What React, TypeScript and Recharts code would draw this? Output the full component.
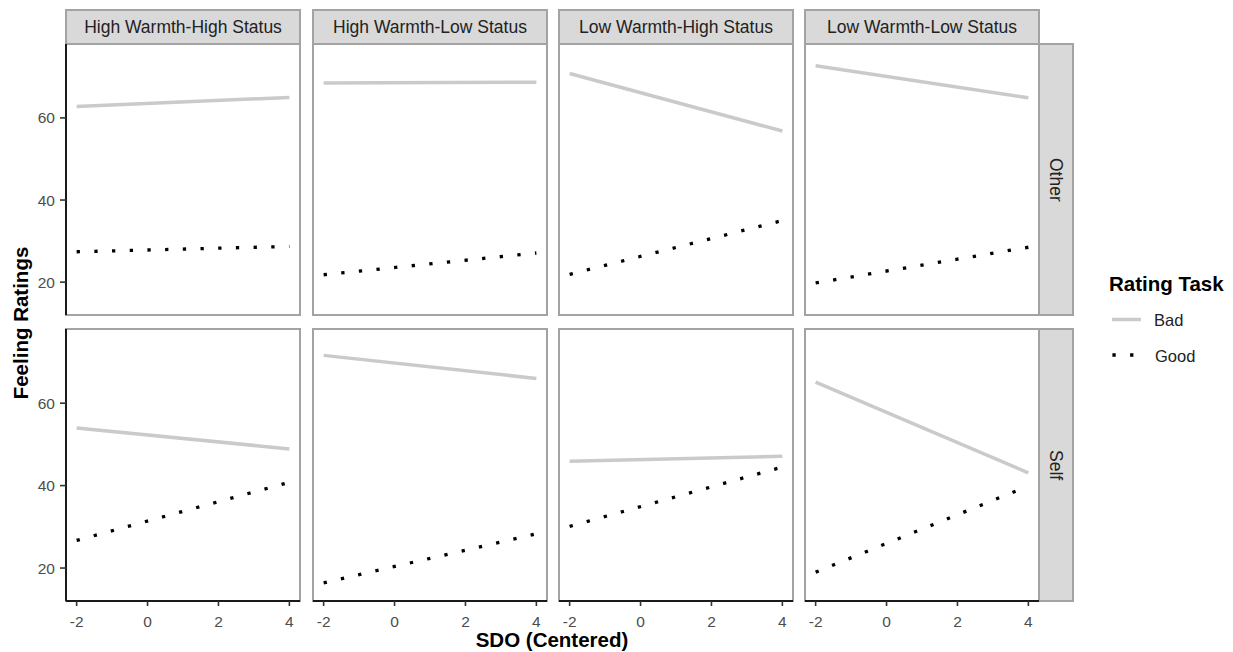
import { LineChart, Line, XAxis, YAxis } from 'recharts';

const FONT = '"Liberation Sans", Arial, Helvetica, sans-serif';

// facet labels
const columnLabels = ['High Warmth-High Status', 'High Warmth-Low Status', 'Low Warmth-High Status', 'Low Warmth-Low Status'];
const rowLabels = ['Other', 'Self'];

// x values of the fitted lines and ticks
const sdoValues = [-2, 4];
const xTicks = [-2, 0, 2, 4];
const yTicks = [20, 40, 60];

// [value at SDO=-2, value at SDO=4] per column
const badOther = [[62.8, 65.0], [68.5, 68.7], [70.8, 56.8], [72.7, 64.9]];
const goodOther = [[27.4, 28.7], [21.8, 27.1], [21.9, 35.0], [19.8, 28.5]];
const badSelf = [[54.0, 48.9], [71.6, 66.0], [45.9, 47.1], [65.1, 43.1]];
const goodSelf = [[26.7, 40.8], [16.4, 28.3], [30.1, 44.5], [19.0, 39.9]];

const seriesByRow = [
    { bad: badOther, good: goodOther },
    { bad: badSelf, good: goodSelf },
];

const colLeft = [66, 313, 559, 805];
const rowTop = [44, 329];
const rowHeight = [271, 272];
const PANEL_W = 234;
const Y_AXIS_W = 66;
const X_AXIS_H = 50;
const BORDER = '2px solid #a3a3a3';

const tickStyle = { fill: '#4d4d4d', fontSize: 15.5, fontFamily: FONT };

function Panel({ row, col }: { row: number; col: number }) {
    const bad = seriesByRow[row].bad[col];
    const good = seriesByRow[row].good[col];
    const data = sdoValues.map((x, i) => ({ sdo: x, Bad: bad[i], Good: good[i] }));
    const showY = col === 0;
    const showX = row === 1;
    const w = PANEL_W + (showY ? Y_AXIS_W : 0);
    const h = rowHeight[row] + (showX ? X_AXIS_H : 0);

    return (
        <>
            <div
                style={{
                    position: 'absolute',
                    left: colLeft[col] - 1,
                    top: rowTop[row] - 1,
                    width: PANEL_W + 2,
                    height: rowHeight[row] + 2,
                    border: BORDER,
                    boxSizing: 'border-box',
                    background: '#fff',
                }}
            />
            <div style={{ position: 'absolute', left: colLeft[col] - (showY ? Y_AXIS_W : 0), top: rowTop[row] }}>
                <LineChart width={w} height={h} data={data} margin={{ top: 0, right: 0, bottom: 0, left: 0 }}>
                    <XAxis
                        dataKey="sdo"
                        type="number"
                        domain={[-2.3, 4.3]}
                        ticks={xTicks}
                        allowDataOverflow
                        hide={!showX}
                        height={X_AXIS_H}
                        axisLine={{ stroke: '#1a1a1a', strokeWidth: 2 }}
                        tickLine={{ stroke: '#333', strokeWidth: 1.6 }}
                        tickSize={5}
                        tickMargin={10}
                        tick={tickStyle}
                    />
                    <YAxis
                        type="number"
                        domain={[12, 78]}
                        ticks={yTicks}
                        allowDataOverflow
                        hide={!showY}
                        width={Y_AXIS_W}
                        axisLine={{ stroke: '#1a1a1a', strokeWidth: 2 }}
                        tickLine={{ stroke: '#333', strokeWidth: 1.6 }}
                        tickSize={6}
                        tickMargin={5}
                        tick={tickStyle}
                    />
                    <Line type="linear" dataKey="Bad" stroke="#cacaca" strokeWidth={3.5} dot={false} activeDot={false} isAnimationActive={false} />
                    <Line type="linear" dataKey="Good" stroke="#000" strokeWidth={3.3} strokeDasharray="3.3 14.4" dot={false} activeDot={false} isAnimationActive={false} />
                </LineChart>
            </div>
        </>
    );
}

export default function App() {
    return (
        <div style={{ position: 'absolute', left: 0, top: 0, width: 1233, height: 652, background: '#fff', fontFamily: FONT }}>
            {columnLabels.map((label, col) => (
                <div
                    key={label}
                    style={{
                        position: 'absolute',
                        left: colLeft[col] - 1,
                        top: 9,
                        width: PANEL_W + 2,
                        height: 36,
                        background: '#d9d9d9',
                        border: BORDER,
                        boxSizing: 'border-box',
                        color: '#222',
                        fontSize: 17.5,
                        lineHeight: '32px',
                        textAlign: 'center',
                        whiteSpace: 'nowrap',
                    }}
                >
                    {label}
                </div>
            ))}
            {rowLabels.map((label, row) => (
                <div
                    key={label}
                    style={{
                        position: 'absolute',
                        left: 1038,
                        top: rowTop[row] - 1,
                        width: 36,
                        height: rowHeight[row] + 2,
                        background: '#d9d9d9',
                        border: BORDER,
                        boxSizing: 'border-box',
                        color: '#222',
                        fontSize: 17.5,
                        display: 'flex',
                        alignItems: 'center',
                        justifyContent: 'center',
                    }}
                >
                    <span style={{ writingMode: 'vertical-rl', lineHeight: '32px' }}>{label}</span>
                </div>
            ))}
            {rowLabels.map((_, row) => columnLabels.map((__, col) => <Panel key={`${row}-${col}`} row={row} col={col} />))}

            {/* axis titles */}
            <div
                style={{
                    position: 'absolute',
                    left: 552,
                    top: 630,
                    transform: 'translateX(-50%)',
                    lineHeight: '19px',
                    fontWeight: 700,
                    fontSize: 20.5,
                    color: '#000',
                    whiteSpace: 'nowrap',
                }}
            >
                SDO (Centered)
            </div>
            <div
                style={{
                    position: 'absolute',
                    left: 21 - 150,
                    top: 323 - 12,
                    width: 300,
                    lineHeight: '24px',
                    textAlign: 'center',
                    fontWeight: 700,
                    fontSize: 20.5,
                    color: '#000',
                    transform: 'rotate(-90deg)',
                }}
            >
                Feeling Ratings
            </div>

            {/* legend */}
            <div style={{ position: 'absolute', left: 1109, top: 284 - 12, lineHeight: '24px', fontWeight: 700, fontSize: 20.5, color: '#000', whiteSpace: 'nowrap' }}>
                Rating Task
            </div>
            <svg style={{ position: 'absolute', left: 1100, top: 300 }} width={50} height={70}>
                <line x1={12} x2={41} y1={19.5} y2={19.5} stroke="#cacaca" strokeWidth={3.5} />
                <line x1={12.4} x2={40} y1={55} y2={55} stroke="#000" strokeWidth={3.3} strokeDasharray="3.3 14.4" />
            </svg>
            <div style={{ position: 'absolute', left: 1154, top: 320 - 11, lineHeight: '22px', fontSize: 16.5, color: '#222' }}>Bad</div>
            <div style={{ position: 'absolute', left: 1155, top: 356 - 11, lineHeight: '22px', fontSize: 16.5, color: '#222' }}>Good</div>
        </div>
    );
}
